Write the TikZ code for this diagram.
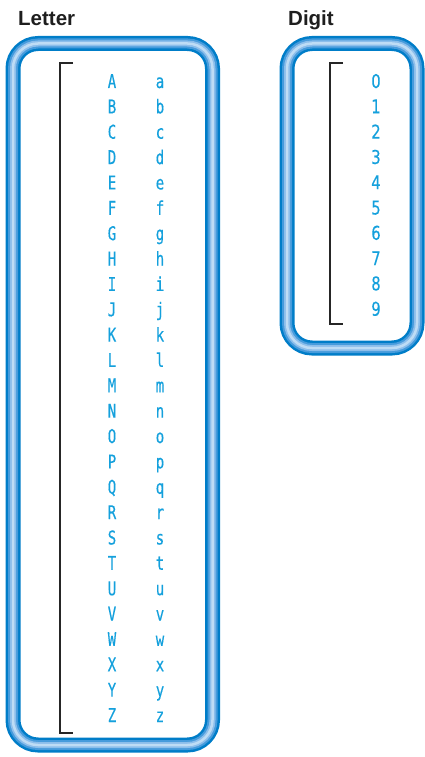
\documentclass[tikz,border=0pt]{standalone}
\usepackage{fontspec}
\setmainfont{Liberation Sans}
\newfontfamily\glyphfont[FakeStretch=0.74,FakeBold=0.3]{DejaVu Sans Mono}
\newfontfamily\digitfont[FakeStretch=0.78,FakeBold=0.3]{DejaVu Sans}
\definecolor{tubeblue}{RGB}{0,125,200}
\definecolor{tubemid}{RGB}{70,155,220}
\definecolor{tubelight}{RGB}{140,190,235}
\definecolor{tubelightest}{RGB}{190,220,245}
\definecolor{charblue}{RGB}{20,160,220}
\definecolor{titlegray}{RGB}{30,30,30}
\tikzset{
  tube/.style={draw=tubeblue, line width=15pt, rounded corners=25pt},
  tubem/.style={draw=tubemid, line width=10pt, rounded corners=25pt},
  tubel/.style={draw=tubelight, line width=6pt, rounded corners=25pt},
  tubell/.style={draw=tubelightest, line width=2.5pt, rounded corners=25pt},
  glyph/.style={text=charblue, font=\glyphfont\fontsize{19}{19}\selectfont, inner sep=0pt, anchor=base},
  digitglyph/.style={text=charblue, font=\digitfont\fontsize{19}{19}\selectfont, inner sep=0pt, anchor=base},
  title/.style={text=titlegray, font=\bfseries\fontsize{20.5}{20.5}\selectfont, inner sep=0pt, anchor=base west},
  bracket/.style={draw=black!85, line width=1.6pt},
}
\begin{document}
\begin{tikzpicture}[x=1pt,y=-1pt]
\useasboundingbox (0,0) rectangle (425,757);
% titles
\node[title] (tletter) at (18,26) {Letter};
\node[title] (tdigit) at (288,26) {Digit};
% boxes
\foreach \s in {tube,tubem,tubel,tubell}{
  \draw[\s] (13,43.5) rectangle (212.5,745);
  \draw[\s] (287,43.5) rectangle (417,348);
}
% brackets
\draw[bracket] (73,63) -- (60,63) -- (60,733) -- (73,733);
\draw[bracket] (343,63) -- (330,63) -- (330,324) -- (343,324);
% letters
\foreach \U/\L [count=\i from 0] in {A/a,B/b,C/c,D/d,E/e,F/f,G/g,H/h,I/i,J/j,K/k,L/l,M/m,N/n,O/o,P/p,Q/q,R/r,S/s,T/t,U/u,V/v,W/w,X/x,Y/y,Z/z}{
  \node[glyph] (up\i) at (112,{88+25.36*\i}) {\U};
  \node[glyph] (lo\i) at (160,{88+25.36*\i}) {\L};
}
% digits
\foreach \d in {0,...,9}{
  \node[digitglyph] (dg\d) at (376,{88+25.3*\d}) {\d};
}
\end{tikzpicture}
\end{document}
